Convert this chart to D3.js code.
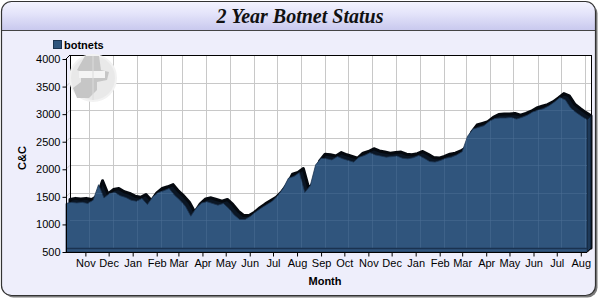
<!DOCTYPE html>
<html>
<head>
<meta charset="utf-8">
<script src="https://cdn.jsdelivr.net/npm/d3@7"></script>
<style>
  body { margin: 0; background: #fff; }
  svg { display: block; font-family: Arial, "Liberation Sans", sans-serif; }
</style>
</head>
<body>
<svg id="chart" width="600" height="300"></svg>
<script>
// weekly readings, starting 2006-10-07
const startDate = new Date(2006, 9, 7);
const botnets = [
  1380, 1400, 1390, 1400, 1380, 1440, 1720, 1480, 1560, 1580,
  1520, 1490, 1440, 1420, 1470, 1360, 1500, 1580, 1610, 1650,
  1530, 1440, 1330, 1150, 1300, 1390, 1410, 1380, 1350, 1380,
  1290, 1170, 1090, 1090, 1150, 1230, 1300, 1360, 1420, 1520,
  1650, 1840, 1870, 1940, 1580, 1700, 2080, 2200, 2190, 2170,
  2230, 2190, 2160, 2130, 2220, 2250, 2300, 2260, 2240, 2220,
  2230, 2240, 2200, 2190, 2210, 2250, 2200, 2140, 2130, 2160,
  2200, 2220, 2260, 2320, 2600, 2730, 2760, 2790, 2870, 2920,
  2930, 2930, 2940, 2910, 2940, 2980, 3040, 3070, 3100, 3150,
  3220, 3300, 3260, 3110, 3030, 2960, 2900
];
const yTicks = [500, 1000, 1500, 2000, 2500, 3000, 3500, 4000];
const seriesName = "botnets";
const titleText = "2 Year Botnet Status";

const data = botnets.map(function(v, i) {
  return { date: d3.timeDay.offset(startDate, 7 * i), value: v };
});

const svg = d3.select("#chart");
const dx = 4, dy = -4; // 3d depth

const x = d3.scaleTime()
  .domain([startDate, data[data.length - 1].date])
  .range([66, 587]);
const y = d3.scaleLinear().domain([500, 4000]).range([252, 59]);

// background + border
const defs = svg.append("defs");
const tg = defs.append("linearGradient").attr("id", "tg").attr("x1", 0).attr("y1", 0).attr("x2", 0).attr("y2", 1);
tg.append("stop").attr("offset", "0%").attr("stop-color", "#f6f6ff");
tg.append("stop").attr("offset", "45%").attr("stop-color", "#e4e4fa");
tg.append("stop").attr("offset", "100%").attr("stop-color", "#c9c9ee");
defs.append("clipPath").attr("id", "outer")
  .append("rect").attr("x", 1.5).attr("y", 1.5).attr("width", 594).attr("height", 294).attr("rx", 10);

svg.append("rect").attr("x", 3.5).attr("y", 3.5).attr("width", 594).attr("height", 294).attr("rx", 10)
  .attr("fill", "#7a7a7a");
svg.append("rect").attr("x", 1.5).attr("y", 1.5).attr("width", 594).attr("height", 294).attr("rx", 10)
  .attr("fill", "#eeeefb");
svg.append("rect").attr("clip-path", "url(#outer)").attr("x", 0).attr("y", 0).attr("width", 600).attr("height", 30)
  .attr("fill", "url(#tg)");
svg.append("line").attr("x1", 1.5).attr("x2", 595.5).attr("y1", 30.5).attr("y2", 30.5)
  .attr("stroke", "#444").attr("stroke-width", 1);
svg.append("rect").attr("x", 1.5).attr("y", 1.5).attr("width", 594).attr("height", 294).attr("rx", 10)
  .attr("fill", "none").attr("stroke", "#333").attr("stroke-width", 1.2);

svg.append("text").attr("x", 300).attr("y", 23).attr("text-anchor", "middle")
  .attr("font-family", "'Liberation Serif', 'Times New Roman', serif")
  .attr("font-weight", "bold").attr("font-style", "italic").attr("font-size", 20)
  .attr("fill", "#111").text(titleText);

// back wall
const x0 = x.range()[0], x1 = x.range()[1], yb = y(500), yt = y(4000);
svg.append("rect").attr("x", x0 + dx).attr("y", yt + dy).attr("width", x1 - x0).attr("height", yb - yt)
  .attr("fill", "#fff");

const months = x.ticks(d3.timeMonth.every(1)).filter(function(d) { return x(d) > x0 + 2; });

const grid = svg.append("g").attr("stroke", "#c8c8c8").attr("stroke-width", 1);
grid.selectAll(".gv").data(months).enter().append("line")
  .attr("x1", function(d) { return Math.round(x(d) + dx) + 0.5; })
  .attr("x2", function(d) { return Math.round(x(d) + dx) + 0.5; })
  .attr("y1", yt + dy).attr("y2", yb + dy);
grid.selectAll(".gh").data(yTicks.slice(1, -1)).enter().append("line")
  .attr("x1", x0 + dx).attr("x2", x1 + dx)
  .attr("y1", function(d) { return Math.round(y(d) + dy) + 0.5; })
  .attr("y2", function(d) { return Math.round(y(d) + dy) + 0.5; });
// left wall diagonals
grid.selectAll(".gl").data(yTicks.slice(1, -1)).enter().append("line")
  .attr("x1", x0).attr("x2", x0 + dx)
  .attr("y1", function(d) { return y(d); }).attr("y2", function(d) { return y(d) + dy; });

svg.append("rect").attr("x", x0 + dx + 0.5).attr("y", yt + dy + 0.5).attr("width", x1 - x0).attr("height", yb - yt)
  .attr("fill", "none").attr("stroke", "#000").attr("stroke-width", 1);
svg.append("line").attr("x1", x0).attr("y1", yt).attr("x2", x0 + dx).attr("y2", yt + dy).attr("stroke", "#000");

// watermark
const wm = svg.append("g").attr("transform", "translate(93,78)");
wm.append("circle").attr("r", 23).attr("fill", "#e9e9e9").attr("stroke", "#f2f2f2").attr("stroke-width", 2);
wm.append("path")
  .attr("d", "M-8,-22 L6,-22 L8,-8 L16,-6 L14,2 L4,4 L4,12 L-4,20 L-16,20 L-20,10 L-12,4 L-12,-6 L-16,-8 Z")
  .attr("fill", "#c6c6c6");
wm.append("path").attr("d", "M-14,-7 L12,-7 L12,0 L-14,0 Z").attr("fill", "#f4f4f4");
wm.append("line").attr("x1", 0).attr("x2", 0).attr("y1", -22).attr("y2", 22).attr("stroke", "#dcdcdc");

// area: back (top surface), then front face
const area = d3.area()
  .x(function(d) { return x(d.date); })
  .y0(yb)
  .y1(function(d) { return y(d.value); });

svg.append("path").datum(data)
  .attr("transform", "translate(" + dx + "," + dy + ")")
  .attr("d", area)
  .attr("fill", "#0b1624").attr("stroke", "#05090f").attr("stroke-width", 3).attr("stroke-linejoin", "round");

const last = data[data.length - 1];
svg.append("path")
  .attr("d", "M" + x1 + "," + y(last.value) + "L" + (x1 + dx) + "," + (y(last.value) + dy) +
    "L" + (x1 + dx) + "," + (yb + dy) + "L" + x1 + "," + yb + "Z")
  .attr("fill", "#1e3a5a").attr("stroke", "#0b1624").attr("stroke-width", 1);

defs.append("clipPath").attr("id", "front").append("path").datum(data).attr("d", area);

svg.append("path").datum(data)
  .attr("d", area)
  .attr("fill", "#30557d").attr("stroke", "#1c3450").attr("stroke-width", 0.8);

// grid showing faintly through the front face
const fg = svg.append("g").attr("clip-path", "url(#front)").attr("stroke", "#4a6d94").attr("stroke-opacity", 0.55);
fg.selectAll(".fv").data(months).enter().append("line")
  .attr("x1", function(d) { return Math.round(x(d) + dx) + 0.5; })
  .attr("x2", function(d) { return Math.round(x(d) + dx) + 0.5; })
  .attr("y1", yt + dy).attr("y2", yb + dy);
fg.selectAll(".fh").data(yTicks.slice(1, -1)).enter().append("line")
  .attr("x1", x0 + dx).attr("x2", x1 + dx)
  .attr("y1", function(d) { return Math.round(y(d) + dy) + 0.5; })
  .attr("y2", function(d) { return Math.round(y(d) + dy) + 0.5; });
svg.append("line").attr("x1", x0).attr("x2", x1).attr("y1", yb - 3.5).attr("y2", yb - 3.5)
  .attr("stroke", "#1a3250").attr("stroke-width", 1.5);

// axes
const yAxis = d3.axisLeft(y).tickValues(yTicks).tickFormat(d3.format("d")).tickSize(4).tickPadding(2);
const gy = svg.append("g").attr("transform", "translate(" + (x0 + 0.5) + ",0)").call(yAxis);
const xAxis = d3.axisBottom(x).tickValues(months).tickFormat(d3.timeFormat("%b")).tickSize(4).tickPadding(3);
const gx = svg.append("g").attr("transform", "translate(0," + (yb + 0.5) + ")").call(xAxis);
[gx, gy].forEach(function(g) {
  g.select(".domain").attr("stroke", "#000").attr("d", g === gx ? "M" + x0 + ",0H" + x1 : "M0," + yt + "V" + yb);
  g.selectAll(".tick line").attr("stroke", "#000");
  g.selectAll("text").attr("font-size", 11).attr("font-family", "Arial, 'Liberation Sans', sans-serif").attr("fill", "#000");
});
svg.append("line").attr("x1", x1).attr("y1", yb + 0.5).attr("x2", x1 + dx).attr("y2", yb + dy + 0.5).attr("stroke", "#000");

// axis titles
svg.append("text").attr("transform", "translate(26,158) rotate(-90)").attr("text-anchor", "middle")
  .attr("font-size", 11).attr("font-weight", "bold").text("C&C");
svg.append("text").attr("x", 325).attr("y", 285).attr("text-anchor", "middle")
  .attr("font-size", 11).attr("font-weight", "bold").text("Month");

// legend
svg.append("rect").attr("x", 53.5).attr("y", 40.5).attr("width", 8).attr("height", 8)
  .attr("fill", "#30557d").attr("stroke", "#1c3450");
svg.append("text").attr("x", 64).attr("y", 49).attr("font-size", 11).attr("font-weight", "bold").text(seriesName);
</script>
</body>
</html>
